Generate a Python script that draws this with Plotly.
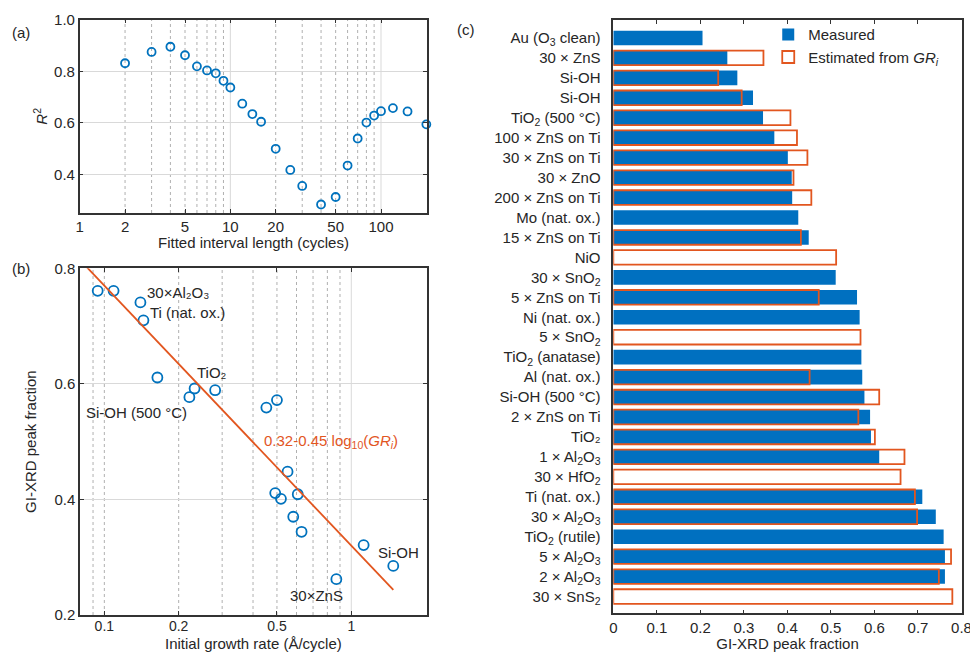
import numpy as np
import plotly.graph_objects as go

# ---------------- data ----------------
# (a) R^2 vs fitted interval length
interval_cycles = [2, 3, 4, 5, 6, 7, 8, 9, 10, 12, 14, 16, 20, 25, 30, 40, 50, 60, 70, 80, 90, 100, 120, 150, 200]
r2_values = [0.831, 0.875, 0.895, 0.862, 0.819, 0.803, 0.792, 0.763, 0.737, 0.674, 0.634, 0.604,
             0.499, 0.417, 0.355, 0.283, 0.312, 0.434, 0.539, 0.601, 0.628, 0.645, 0.657, 0.644, 0.594]

# (b) GI-XRD peak fraction vs initial growth rate
growth_rate = [0.094, 0.109, 0.140, 0.144, 0.164, 0.221, 0.232, 0.281, 0.453, 0.500,
               0.552, 0.492, 0.519, 0.607, 0.582, 0.629, 1.122, 1.479, 0.870]
peak_fraction = [0.761, 0.761, 0.741, 0.710, 0.611, 0.577, 0.592, 0.589, 0.559, 0.572,
                 0.448, 0.411, 0.401, 0.409, 0.370, 0.344, 0.321, 0.285, 0.262]
fit_intercept = 0.32
fit_slope = -0.45
fit_x_ends = [0.082, 1.48]

# (c) measured vs estimated peak fraction
samples = ["Au (O<sub>3</sub> clean)", "30 × ZnS", "Si-OH", "Si-OH", "TiO<sub>2</sub> (500 °C)",
           "100 × ZnS on Ti", "30 × ZnS on Ti", "30 × ZnO", "200 × ZnS on Ti", "Mo (nat. ox.)",
           "15 × ZnS on Ti", "NiO", "30 × SnO<sub>2</sub>", "5 × ZnS on Ti", "Ni (nat. ox.)",
           "5 × SnO<sub>2</sub>", "TiO<sub>2</sub> (anatase)", "Al (nat. ox.)", "Si-OH (500 °C)",
           "2 × ZnS on Ti", "TiO₂", "1 × Al<sub>2</sub>O<sub>3</sub>", "30 × HfO<sub>2</sub>",
           "Ti (nat. ox.)", "30 × Al<sub>2</sub>O<sub>3</sub>", "TiO<sub>2</sub> (rutile)",
           "5 × Al<sub>2</sub>O<sub>3</sub>", "2 × Al<sub>2</sub>O<sub>3</sub>", "30 × SnS<sub>2</sub>"]
measured = [0.205, 0.262, 0.285, 0.321, 0.344, 0.370, 0.401, 0.410, 0.411, 0.425,
            0.449, None, 0.511, 0.560, 0.566, None, 0.570, 0.572, 0.577, 0.590,
            0.592, 0.611, None, 0.710, 0.741, 0.759, 0.762, 0.762, None]
estimated = [None, 0.345, 0.241, 0.295, 0.407, 0.422, 0.446, 0.414, 0.455, None,
             0.431, 0.512, None, 0.472, None, 0.568, None, 0.451, 0.611, 0.563,
             0.601, 0.669, 0.660, 0.693, 0.698, None, 0.776, 0.748, 0.779]

a_x_ticks = [1, 2, 5, 10, 20, 50, 100]
a_y_ticks = [0.4, 0.6, 0.8, 1.0]
b_x_ticks = [0.1, 0.2, 0.5, 1]
b_y_ticks = [0.2, 0.4, 0.6, 0.8]
c_x_ticks = [0, 0.1, 0.2, 0.3, 0.4, 0.5, 0.6, 0.7, 0.8]

# ---------------- style ----------------
BLUE = "#0072BD"
BAR_BLUE = "#0070C0"
ORANGE = "#E2561F"
TXT = "#262626"
FONT = "Arial, Liberation Sans, sans-serif"
GRID = "#d9d9d9"
DOT = "#b0b0b0"

fig = go.Figure()

# (a)
fig.add_trace(go.Scatter(x=interval_cycles, y=r2_values, mode="markers",
                         marker=dict(symbol="circle-open", size=8, color=BLUE, line=dict(width=1.8)),
                         xaxis="x", yaxis="y", showlegend=False, cliponaxis=False))
# (b)
fig.add_trace(go.Scatter(x=growth_rate, y=peak_fraction, mode="markers",
                         marker=dict(symbol="circle-open", size=10, color=BLUE, line=dict(width=1.8)),
                         xaxis="x2", yaxis="y2", showlegend=False))
fit_y = [fit_intercept + fit_slope * np.log10(v) for v in fit_x_ends]
fig.add_trace(go.Scatter(x=fit_x_ends, y=fit_y, mode="lines", line=dict(color=ORANGE, width=1.8),
                         xaxis="x2", yaxis="y2", showlegend=False))
# (c)
ypos = list(range(len(samples)))
fig.add_trace(go.Bar(x=measured, y=ypos, orientation="h", name="Measured",
                     marker=dict(color=BAR_BLUE, line=dict(width=0)), width=0.73,
                     xaxis="x3", yaxis="y3"))
fig.add_trace(go.Bar(x=estimated, y=ypos, orientation="h", name="Estimated from <i>GR<sub>i</sub></i>",
                     marker=dict(color="rgba(255,255,255,0)", line=dict(color=ORANGE, width=1.8)),
                     width=0.73, xaxis="x3", yaxis="y3"))

axis_common = dict(showline=True, mirror="ticks", linecolor="#333333", linewidth=1.5,
                   ticks="inside", ticklen=4, tickcolor="#333333", zeroline=False,
                   automargin=False, ticklabeloverflow="allow",
                   tickfont=dict(size=15, color=TXT, family=FONT))

W, H = 970, 652
dom_a_x = [79.7 / W, 427 / W]
dom_a_y = [1 - 213 / H, 1 - 19.7 / H]
dom_b_x = [80 / W, 426.7 / W]
dom_b_y = [1 - 615 / H, 1 - 268.3 / H]
dom_c_x = [613.3 / W, 961.7 / W]
dom_c_y = [1 - 613.3 / H, 1 - 20 / H]

fig.update_layout(
    width=W, height=H, margin=dict(l=0, r=0, t=0, b=0, autoexpand=False),
    paper_bgcolor="white", plot_bgcolor="white",
    font=dict(family=FONT, size=15, color=TXT),
    barmode="overlay",
    xaxis=dict(axis_common, type="log", domain=dom_a_x, anchor="y",
               range=[0, np.log10(202)], tickvals=a_x_ticks, ticktext=[str(v) for v in a_x_ticks],
               showgrid=False, ticklabelstandoff=-1),
    yaxis=dict(axis_common, domain=dom_a_y, anchor="x", range=[0.25, 1.0],
               tickvals=a_y_ticks, ticktext=["0.4", "0.6", "0.8", "1.0"],
               showgrid=True, gridcolor=GRID, gridwidth=1,
               title=dict(text="<i>R</i><sup>2</sup>", standoff=3, font=dict(size=15))),
    xaxis2=dict(axis_common, type="log", domain=dom_b_x, anchor="y2",
                range=[np.log10(0.0797), np.log10(2.02)], tickvals=b_x_ticks,
                ticktext=["0.1", "0.2", "0.5", "1"], showgrid=False, ticklabelstandoff=-3,
                tickfont=dict(size=14, color=TXT, family=FONT)),
    yaxis2=dict(axis_common, domain=dom_b_y, anchor="x2", range=[0.2, 0.8],
                tickvals=b_y_ticks, ticktext=["0.2", "0.4", "0.6", "0.8"],
                showgrid=True, gridcolor=GRID, gridwidth=1,
                title=dict(text="GI-XRD peak fraction", standoff=14, font=dict(size=15))),
    xaxis3=dict(axis_common, domain=dom_c_x, anchor="y3", range=[0, 0.8005],
                tickvals=c_x_ticks, ticktext=["0", "0.1", "0.2", "0.3", "0.4", "0.5", "0.6", "0.7", "0.8"],
                showgrid=False,
                title=dict(text="GI-XRD peak fraction", standoff=0, font=dict(size=15))),
    yaxis3=dict(axis_common, domain=dom_c_y, anchor="x3", range=[len(samples) - 0.16, -0.9],
                tickvals=ypos, ticktext=samples, ticks="", showgrid=False, ticklabelstandoff=8,
                tickfont=dict(size=15, color=TXT, family=FONT)),
    legend=dict(x=0.792, y=0.972, xanchor="left", yanchor="top", bgcolor="rgba(255,255,255,0)",
                font=dict(size=15, color=TXT), tracegroupgap=0, itemwidth=30),
)

# dotted / solid vertical gridlines
shapes = []
a_dot = [2, 3, 4, 5, 6, 7, 8, 9, 20, 30, 40, 50, 60, 70, 80, 90]
a_solid = [10, 100]
b_dot = [0.09, 0.1, 0.2, 0.3, 0.4, 0.5, 0.6, 0.7, 0.8, 0.9]
b_solid = [1]
for v in a_dot:
    shapes.append(dict(type="line", xref="x", yref="y domain", x0=v, x1=v, y0=0, y1=1,
                       line=dict(color=DOT, width=1, dash="dot"), layer="below"))
for v in a_solid:
    shapes.append(dict(type="line", xref="x", yref="y domain", x0=v, x1=v, y0=0, y1=1,
                       line=dict(color=GRID, width=1), layer="below"))
for v in b_dot:
    shapes.append(dict(type="line", xref="x2", yref="y2 domain", x0=v, x1=v, y0=0, y1=1,
                       line=dict(color=DOT, width=1, dash="dot"), layer="below"))
for v in b_solid:
    shapes.append(dict(type="line", xref="x2", yref="y2 domain", x0=v, x1=v, y0=0, y1=1,
                       line=dict(color=GRID, width=1), layer="below"))
fig.update_layout(shapes=shapes)

# annotations
ann = []
def lbl(text, x, y, **kw):
    d = dict(text=text, x=x, y=y, xref="x2", yref="y2", showarrow=False, xanchor="left",
             yanchor="middle", font=dict(size=15, color=TXT, family=FONT))
    d.update(kw)
    ann.append(d)

lbl("30×Al₂O₃", -0.834, 0.758)
lbl("Ti (nat. ox.)", -0.822, 0.723)
lbl("TiO₂", -0.632, 0.619)
lbl("Si-OH (500 °C)", -1.081, 0.550)
lbl("0.32-0.45 log<sub>10</sub>(<i>GR<sub>i</sub></i>)", -0.360, 0.501, font=dict(size=15, color=ORANGE, family=FONT))
lbl("Si-OH", 0.101, 0.309)
lbl("30×ZnS", -0.255, 0.233)

# x-axis titles of panels (a) and (b)
ann.append(dict(text="Fitted interval length (cycles)", x=sum(dom_a_x) / 2, y=1 - 243 / H,
                xref="paper", yref="paper", showarrow=False, xanchor="center", yanchor="middle",
                font=dict(size=15, color=TXT, family=FONT)))
ann.append(dict(text="Initial growth rate (Å/cycle)", x=sum(dom_b_x) / 2, y=0, yshift=-2,
                xref="paper", yref="paper", showarrow=False, xanchor="center", yanchor="bottom",
                font=dict(size=15, color=TXT, family=FONT)))

for t, x, y in [("(a)", 10 / W, 1 - 32 / H), ("(b)", 10 / W, 1 - 268 / H), ("(c)", 455 / W, 1 - 30 / H)]:
    ann.append(dict(text=t, x=x, y=y, xref="paper", yref="paper", showarrow=False,
                    xanchor="left", yanchor="middle", font=dict(size=15, color=TXT, family=FONT)))
fig.update_layout(annotations=ann)

fig.write_html("out.html")
